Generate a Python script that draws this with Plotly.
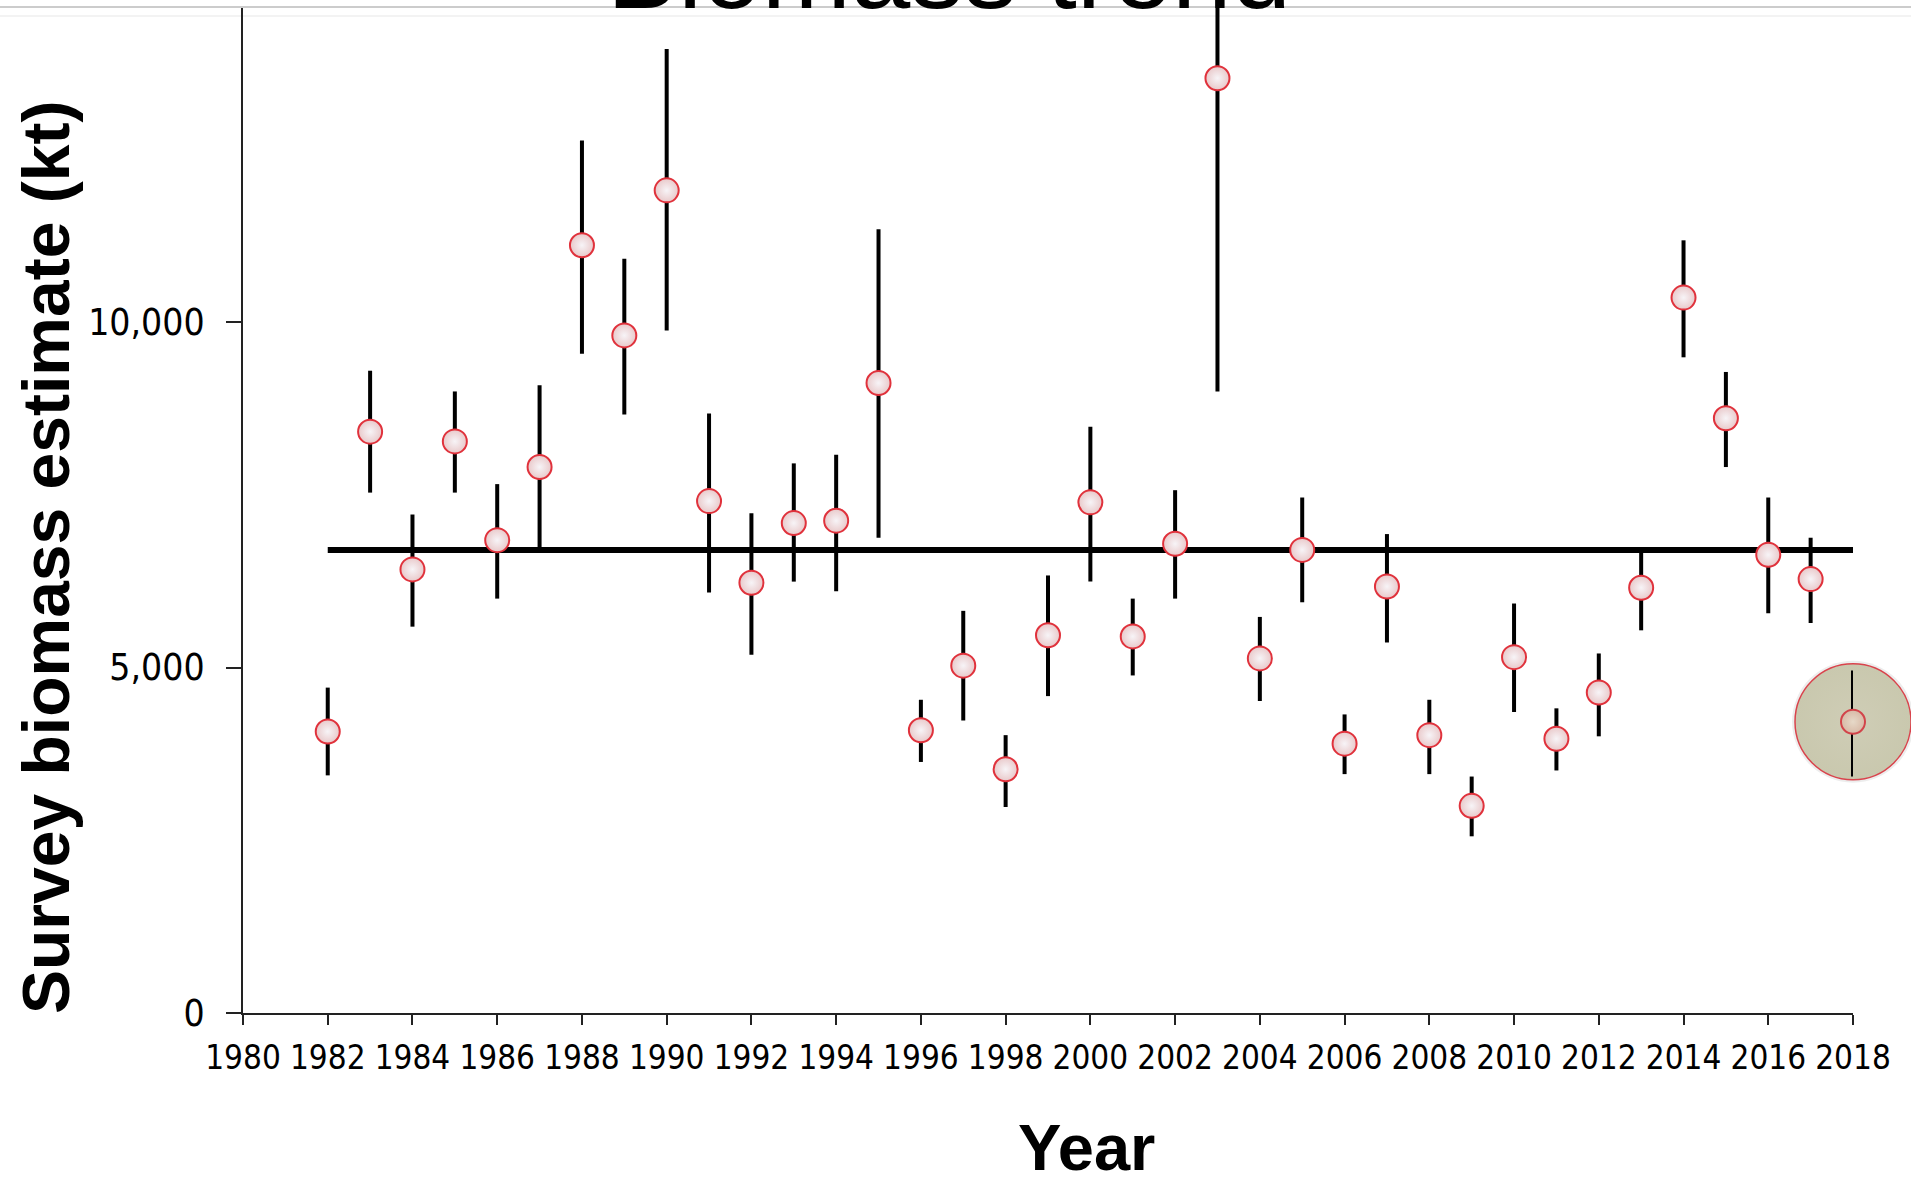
import numpy as np
import plotly.graph_objects as go

# Survey biomass estimates (kt) with their lower / upper interval bounds
years = list(range(1982, 2019))
biomass = [4074, 8413, 6420, 8272, 6843, 7901, 11111, 9806, 11905, 7408,
           6226, 7090, 7125, 9118, 4092, 5027, 3527, 5467, 7390, 5450,
           6790, 13528, 5132, 6702, 3898, 6173, 4021, 2998, 5150, 3968,
           4639, 6155, 10353, 8607, 6631, 6279, 4215]
upper = [4709, 9295, 7214, 8995, 7654, 9083, 12628, 10917, 13951, 8677,
         7231, 7954, 8078, 11341, 4533, 5820, 4021, 6332, 8483, 5997,
         7566, 14600, 5732, 7460, 4321, 6931, 4533, 3422, 5926, 4409,
         5203, 6667, 11182, 9277, 7460, 6878, 4956]
lower = [3439, 7531, 5591, 7531, 5997, 6684, 9542, 8660, 9877, 6085,
         5185, 6243, 6102, 6878, 3633, 4233, 2981, 4586, 6243, 4885,
         5997, 8995, 4515, 5944, 3457, 5362, 3457, 2557, 4356, 3510,
         4004, 5538, 9489, 7901, 5785, 5644, 3422]

y_tick_vals = [0, 5000, 10000]
title_text = "Biomass trend"
x_title = "Year"
y_title = "Survey biomass estimate (kt)"

b = np.array(biomass, dtype=float)
err_plus = np.array(upper) - b
err_minus = b - np.array(lower)
series_mean = float(b.mean())

W, H = 1911, 1179
ML, MR, MT, MB = 243, 58, 7, 166
plot_h = H - MT - MB
px_per_kt = 691 / 10000.0
y_top = plot_h / px_per_kt

# latest year sits under the highlight disc, so its marker is tinted
edge_cols = ["#e9c9ca"] * (len(years) - 1) + ["#d8b9a6"]
centre_cols = ["#f7f4f7"] * (len(years) - 1) + ["#e6d9c8"]
rim_cols = ["#e0323c"] * (len(years) - 1) + ["#d2444a"]

fig = go.Figure()

# soft halo + highlight disc behind the latest survey year
fig.add_trace(go.Scatter(
    x=[years[-1]], y=[biomass[-1]], mode="markers",
    marker=dict(size=122, color="rgba(0,0,0,0.07)", line=dict(width=0)),
    cliponaxis=False, hoverinfo="skip", showlegend=False))
fig.add_trace(go.Scatter(
    x=[years[-1]], y=[biomass[-1]], mode="markers",
    marker=dict(size=116, color="#c9c8ae",
                gradient=dict(type="radial", color="#cfcdb6"),
                line=dict(color="#d9434c", width=1.5)),
    cliponaxis=False, hoverinfo="skip", showlegend=False))

# long-term mean
fig.add_trace(go.Scatter(
    x=[years[0], years[-1]], y=[series_mean, series_mean], mode="lines",
    line=dict(color="black", width=6), cliponaxis=False,
    hoverinfo="skip", showlegend=False))

# annual estimates with interval bars
fig.add_trace(go.Scatter(
    x=years, y=biomass, mode="markers",
    marker=dict(size=24, color=edge_cols,
                gradient=dict(type="radial", color=centre_cols),
                line=dict(color=rim_cols, width=2)),
    error_y=dict(type="data", symmetric=False, array=err_plus,
                 arrayminus=err_minus, color="black", thickness=4, width=0),
    cliponaxis=False, showlegend=False))

fig.update_layout(
    width=W, height=H,
    margin=dict(l=ML, r=MR, t=MT, b=MB, pad=0),
    paper_bgcolor="white", plot_bgcolor="white",
    showlegend=False,
    xaxis=dict(range=[1980, 2018], tick0=1980, dtick=2,
               showgrid=False, zeroline=False,
               showline=True, linecolor="#222", linewidth=2,
               ticks="outside", ticklen=10, tickwidth=2, tickcolor="#222",
               ticklabelstandoff=4,
               tickfont=dict(family="DejaVu Sans Condensed, DejaVu Sans",
                             size=33, color="black")),
    yaxis=dict(range=[0, y_top], tickvals=y_tick_vals, tickformat=",d",
               showgrid=False, zeroline=False,
               showline=True, linecolor="#222", linewidth=2,
               ticks="outside", ticklen=15, tickwidth=2, tickcolor="#222",
               ticklabelstandoff=14,
               tickfont=dict(family="DejaVu Sans Condensed, DejaVu Sans",
                             size=37, color="black")),
    annotations=[
        dict(text=title_text, xref="paper", yref="paper",
             x=(949 - ML) / 1610, y=1, xanchor="center", yanchor="bottom",
             yshift=-26, showarrow=False,
             font=dict(family="Liberation Sans, Arial", size=107,
                       color="black")),
        dict(text="<b>%s</b>" % x_title, xref="paper", yref="paper",
             x=(1086 - ML) / 1610, y=(H - MB - 1147) / plot_h,
             xanchor="center", yanchor="middle", showarrow=False,
             font=dict(family="Liberation Sans, Arial", size=65,
                       color="black")),
        dict(text="<b>%s</b>" % y_title, xref="paper", yref="paper",
             x=(46 - ML) / 1610, y=(H - MB - 558) / plot_h,
             xanchor="center", yanchor="middle", textangle=-90,
             showarrow=False,
             font=dict(family="Liberation Sans, Arial", size=66,
                       color="black")),
    ],
    shapes=[
        dict(type="line", xref="paper", yref="paper", layer="above",
             x0=-0.2, x1=1.1, ysizemode="pixel", yanchor=1, y0=0, y1=0,
             line=dict(color="#cccccc", width=2)),
        dict(type="line", xref="paper", yref="paper", layer="below",
             x0=-0.2, x1=1.1, ysizemode="pixel", yanchor=1, y0=-9, y1=-9,
             line=dict(color="#f3f3f3", width=2)),
    ],
)

fig.write_html("out.html")
